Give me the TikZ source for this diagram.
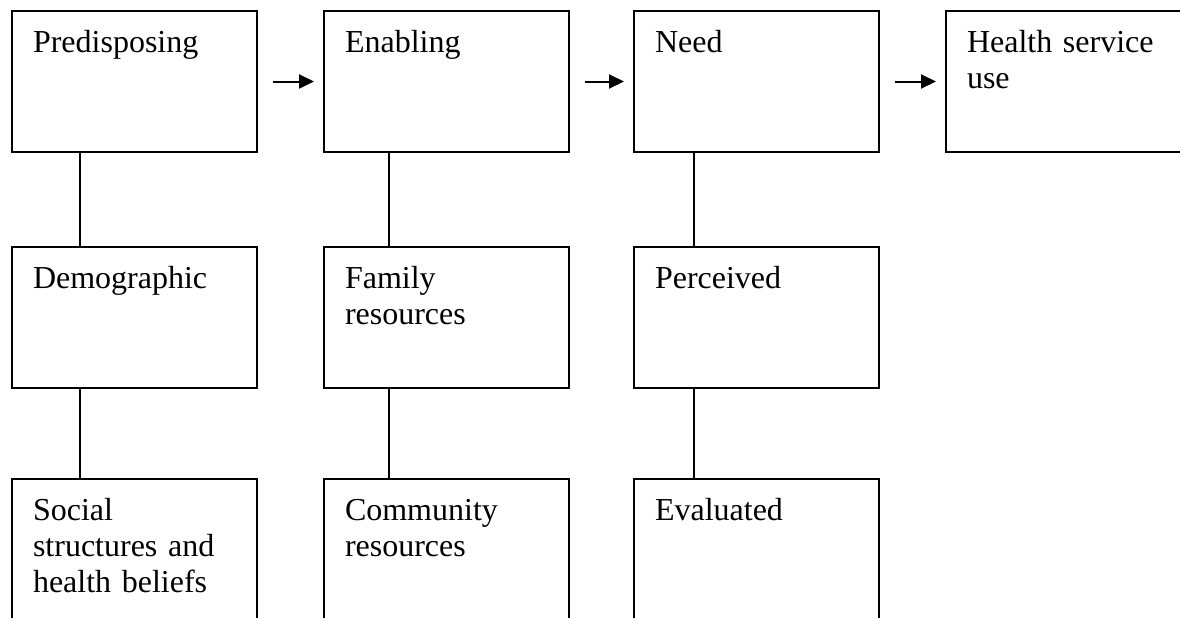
\documentclass[tikz,border=0pt]{standalone}
\usepackage{fontspec}
\setmainfont{Liberation Serif}
\usetikzlibrary{arrows.meta, positioning, calc}

\begin{document}
\begin{tikzpicture}[
    cell/.style={draw, line width=1pt, align=left, text width=101.5pt,
      inner xsep=10.5pt, inner ysep=0pt, text height=20.5pt, text depth=50pt,
      font=\fontsize{16}{18}\selectfont},
    arr/.style={-{Triangle[length=7.5pt, width=7pt]}, line width=1pt},
    link/.style={line width=1pt}]
  \clip (0,0) rectangle (590pt,-308.5pt);
  \node[cell, anchor=north west] (pred) at (5.5pt,-5pt) {Predisposing};
  \node[cell, right=32.5pt of pred] (enab) {Enabling};
  \node[cell, right=31.5pt of enab] (need) {Need};
  \node[cell, right=32.5pt of need] (use) {Health service\\use};
  \node[cell, below=46.5pt of pred] (demo) {Demographic};
  \node[cell, below=46.5pt of enab] (fam) {Family\\resources};
  \node[cell, below=46.5pt of need] (perc) {Perceived};
  \node[cell, below=44.5pt of demo] (soc) {Social\\structures and\\health beliefs};
  \node[cell, below=44.5pt of fam] (comm) {Community\\resources};
  \node[cell, below=44.5pt of perc] (eval) {Evaluated};
  \foreach \a/\b in {pred/enab, enab/need, need/use}
    \draw[arr] ([xshift=7.5pt]\a.east) -- ([xshift=-4.5pt]\b.west);
  \foreach \a/\b/\o in {pred/demo/34.5, demo/soc/34.5, enab/fam/33,
      fam/comm/33, need/perc/30.5, perc/eval/30.5}
    \draw[link] ($(\a.south west)+(\o pt,0)$) -- ($(\b.north west)+(\o pt,0)$);
\end{tikzpicture}
\end{document}
